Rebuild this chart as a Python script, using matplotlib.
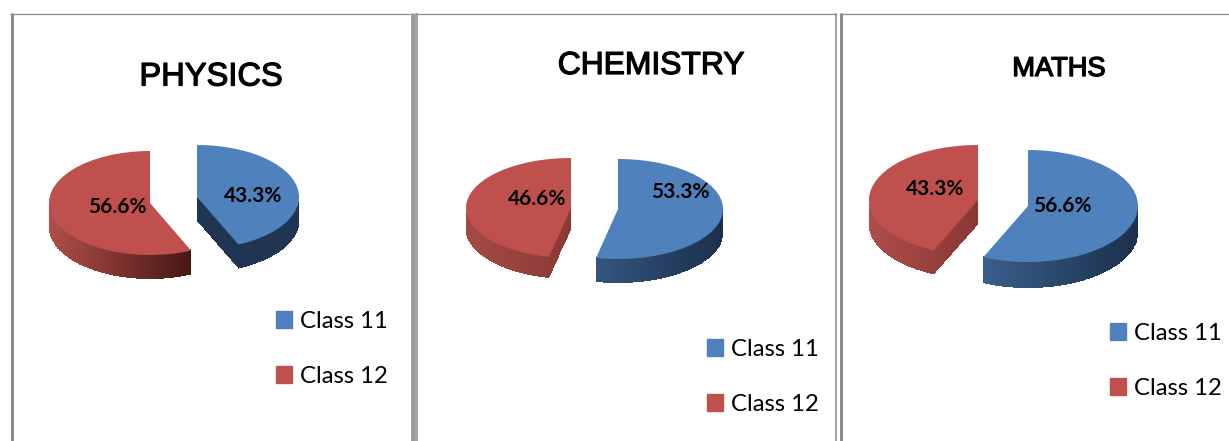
import numpy as np
import matplotlib
matplotlib.use("Agg")
import matplotlib.pyplot as plt
from matplotlib.colors import LinearSegmentedColormap
from matplotlib.patches import Patch
import matplotlib.patheffects as pe

W, H = 1229, 441

# ---- data ----
subjects = ["PHYSICS", "CHEMISTRY", "MATHS"]
classes = ["Class 11", "Class 12"]
class11 = [43.3, 53.3, 56.6]
class12 = [56.6, 46.6, 43.3]

# ---- styles / layout (pixels) ----
BLUE, RED = "#4F81BD", "#C0504D"
# per panel, per slice: centre x, centre y, radius x, radius y, depth
geom = [
    [(197, 197, 102, 52, 24), (150, 203, 101, 52, 24)],
    [(618, 209, 105, 50, 24), (571, 208, 105, 50, 21)],
    [(1028, 206, 110, 56, 26), (978, 200, 109, 55, 24)],
]
wall = [
    [("#1F3552", "#1F3552"), ("#B04E4A", "#471715")],
    [("#34557F", "#1B304C"), ("#A64945", "#8A3936")],
    [("#3A5E8A", "#1B304C"), ("#AE4D4A", "#883735")],
]
title_pos = [(211, 77, 23.5, 0.9), (651, 66, 22.9, 0.9), (1059, 69, 19.6, 1.0)]
label_pos = [[(253, 196), (117, 207)], [(680, 192), (537, 199)], [(1062, 206), (935, 189)]]
legend_pos = [(276, 311), (707, 339), (1110, 323)]

plt.rcParams["font.family"] = ["Liberation Sans", "DejaVu Sans"]
fig = plt.figure(figsize=(W / 100, H / 100), dpi=100, facecolor="white")


def lower_envelope(theta1, theta2, xs):
    t = np.radians(np.linspace(theta1, theta2, 500))
    px = np.r_[0, np.cos(t), 0]
    py = np.r_[0, np.sin(t), 0]
    low = np.full_like(xs, np.inf)
    for x0, y0, x1, y1 in zip(px[:-1], py[:-1], px[1:], py[1:]):
        a, b = min(x0, x1), max(x0, x1)
        if b - a < 1e-12:
            continue
        m = (xs >= a) & (xs <= b)
        low[m] = np.minimum(low[m], y0 + (y1 - y0) * (xs[m] - x0) / (x1 - x0))
    return low


for p in range(3):
    values = [class11[p], class12[p]]
    for s, colour in enumerate([BLUE, RED]):
        cx, cy, rx, ry, depth = geom[p][s]
        ax = fig.add_axes([0, 0, 1, 1])
        ax.patch.set_alpha(0)
        wedges, _ = ax.pie(values, colors=[BLUE, RED], startangle=90,
                           counterclock=False, radius=1)
        wedges[1 - s].set_visible(False)
        w = wedges[s]
        t = np.radians(np.linspace(w.theta1, w.theta2, 500))
        xmin, xmax = min(0, np.cos(t).min()), max(0, np.cos(t).max())
        xs = np.linspace(xmin, xmax, 220)
        low = lower_envelope(w.theta1, w.theta2, xs)
        ok = np.isfinite(low)
        xs, low = xs[ok], low[ok]
        X = np.vstack([xs, xs])
        Y = np.vstack([low - depth / ry, low + 0.02])
        cmap = LinearSegmentedColormap.from_list("w", wall[p][s])
        ax.pcolormesh(X, Y, np.linspace(0, 1, len(xs) - 1)[None, :], cmap=cmap,
                      shading="flat", zorder=0, antialiased=False)
        w.set_zorder(1)
        ax.set_aspect("auto")
        ax.set_xlim(-cx / rx, (W - cx) / rx)
        ax.set_ylim((cy - H) / ry, cy / ry)
        ax.axis("off")

# overlay in pixel coordinates: panel frames and text
ov = fig.add_axes([0, 0, 1, 1])
ov.patch.set_alpha(0)
ov.set_xlim(0, W)
ov.set_ylim(H, 0)
ov.axis("off")
GREY = "#8A8A8A"
for x0, x1 in [(10, 410), (416, 836), (840, 1229)]:
    ov.plot([x0, x1], [13.5, 13.5], color=GREY, lw=0.9, solid_capstyle="butt")
for x, lw, c in [(11.5, 2.2, GREY), (412.5, 3.4, "#9A9A9A"), (416.8, 1.1, GREY),
                 (836.2, 1.1, GREY), (840.8, 2.2, GREY)]:
    ov.plot([x, x], [13, H], color=c, lw=lw, solid_capstyle="butt")

for p, name in enumerate(subjects):
    x, y, size, stroke = title_pos[p]
    ov.text(x, y, name, ha="center", va="center", fontsize=size, color="black",
            path_effects=[pe.withStroke(linewidth=stroke, foreground="black")])
    vals = [class11[p], class12[p]]
    for s, v in enumerate(vals):
        lx, ly = label_pos[p][s]
        ov.text(lx, ly, f"{v}%", ha="center", va="center", fontsize=15,
                family=["Lato", "DejaVu Sans"], weight="bold", color="black")
    lx, ly = legend_pos[p]
    fig.legend(handles=[Patch(color=BLUE, label=classes[0]), Patch(color=RED, label=classes[1])],
               loc="upper left", bbox_to_anchor=(lx / W, 1 - ly / H),
               frameon=False, borderpad=0, borderaxespad=0,
               handlelength=0.68, handleheight=0.7, handletextpad=0.34,
               labelspacing=1.42,
               prop={"family": ["Lato", "DejaVu Sans"], "size": 17.2})

fig.savefig("out.png", dpi=100)
